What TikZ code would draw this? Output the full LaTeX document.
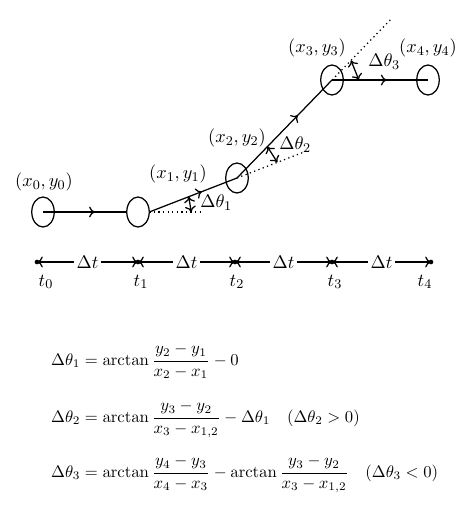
\documentclass[tikz,border=0pt]{standalone}
\usepackage{amsmath}
\usetikzlibrary{shapes.geometric,calc,decorations.markings,arrows.meta}

\tikzset{
  ell/.style={draw, ellipse, minimum width=13.5pt, minimum height=18pt, inner sep=0pt, outer sep=0pt},
  midarr/.style={postaction={decorate}, decoration={markings, mark=at position #1 with {\arrow{To[length=3.5pt,width=6.5pt]}}}},
  dlab/.style={anchor=west, inner sep=1pt},
  formula/.style={anchor=base west, font=\fontsize{10.1}{12.2}\selectfont},
}

\begin{document}
\begin{tikzpicture}[x=0.6pt,y=-0.6pt,line width=0.75pt,>={To[length=3.5pt,width=6.5pt]},font=\fontsize{11.2}{13.4}\selectfont]
\useasboundingbox (0,0) rectangle (474,516);
%ellipses along the path
\node[ell] (p0) at (43,212) {};
\node[ell] (p1) at (138,212) {};
\node[ell] (p2) at (237,178) {};
\node[ell] (p3) at (332,80) {};
\node[ell] (p4) at (428,80) {};
\node (l0) at (44,182) {$(x_0, y_0)$};
\node (l1) at (178,174) {$(x_1, y_1)$};
\node (l2) at (237,138) {$(x_2, y_2)$};
\node (l3) at (317,48) {$(x_3, y_3)$};
\node (l4) at (428,48) {$(x_4, y_4)$};
%trajectory
\draw[midarr=0.62] (p0.center) -- (p1.west);
\draw[midarr=0.6] (p1.east) -- (p2.center);
\draw[midarr=0.64] (p2.center) -- (p3.center);
\draw[midarr=0.57] (p3.center) -- (p4.center);
%dotted extensions
\draw[dotted] (p1.east) -- ++(52,0);
\draw[dotted] (p2.center) -- ($(p1.east)!1.8!(p2.center)$);
\draw[dotted] (p3.center) -- ($(p2.center)!1.62!(p3.center)$);
%turning angles
\coordinate (a1) at ($(p1.east)!0.45!(p2.center)$);
\coordinate (b1) at ($(p1.east)+(42,0)$);
\coordinate (a2) at ($(p2.center)!0.32!(p3.center)$);
\coordinate (b2) at ($(p1.east)!1.46!(p2.center)$);
\coordinate (a3) at ($(p2.center)!1.2!(p3.center)$);
\coordinate (b3) at ($(p3.center)!0.28!(p4.center)$);
\foreach \i in {1,2,3} \draw[<->] (a\i) -- (b\i);
\node[dlab] (d1) at (198,203) {$\Delta\theta_1$};
\node[dlab] (d2) at (277,145) {$\Delta\theta_2$};
\node[dlab] (d3) at (366,62) {$\Delta\theta_3$};
%time axis
\foreach \i/\x/\lx in {0/37/46,1/138/141,2/235/237,3/332/335,4/431/425} {
  \coordinate (t\i) at (\x,262);
  \fill (t\i) circle (1.4pt);
  \node (lt\i) at (\lx,282) {$t_\i$};
}
\foreach \a/\b in {0/1,1/2,2/3,3/4}
  \draw[<->] (t\a) -- node[fill=white, inner sep=1.5pt] (dt\a) {$\Delta t$} (t\b);
%formulas
\node[formula] (eq1) at (45,365) {$\displaystyle \Delta\theta_1 = \arctan\frac{y_2-y_1}{x_2-x_1} - 0$};
\node[formula] (eq2) at (45,422) {$\displaystyle \Delta\theta_2 = \arctan\frac{y_3-y_2}{x_3-x_{1,2}} - \Delta\theta_1 \quad (\Delta\theta_2 > 0)$};
\node[formula] (eq3) at (45,477) {$\displaystyle \Delta\theta_3 = \arctan\frac{y_4-y_3}{x_4-x_3} - \arctan\frac{y_3-y_2}{x_3-x_{1,2}} \quad (\Delta\theta_3 < 0)$};
\end{tikzpicture}
\end{document}
